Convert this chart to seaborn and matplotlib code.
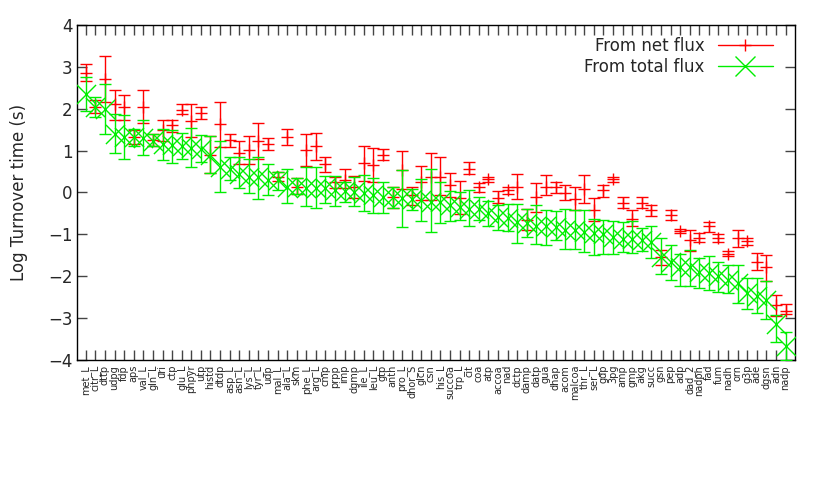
import numpy as np
import pandas as pd
import matplotlib
matplotlib.use("Agg")
import matplotlib.pyplot as plt
from matplotlib.lines import Line2D
import seaborn as sns

labels = ["met_L", "citr_L", "dttp", "udpg", "fdp", "aps", "val_L", "gln_L", "uri", "ctp",
          "glu_L", "phpyr", "utp", "histd", "dtdp", "asp_L", "asn_L", "lys_L", "tyr_L", "udp",
          "mal_L", "ala_L", "skm", "phe_L", "arg_L", "cmp", "prpp", "imp", "dgmp", "ile_L",
          "leu_L", "gtp", "anth", "pro_L", "dhor_S", "glcn", "csn", "his_L", "succoa", "trp_L",
          "cit", "coa", "atp", "accoa", "nad", "dctp", "damp", "datp", "gua", "dhap",
          "acom", "malcoa", "thr_L", "ser_L", "gdp", "3pg", "amp", "gmp", "akg", "succ",
          "gsn", "pep", "adp", "dad_2", "nadph", "fad", "fum", "nadh", "orn", "g3p",
          "ade", "dgsn", "adn", "nadp"]

# turnover time from net flux (value, lower, upper)
net = [2.85, 2.05, 2.71, 2.11, 2.03, 1.32, 2.05, 1.26, 1.48, 1.60,
       1.98, 1.71, 1.90, 0.90, 1.63, 1.25, 0.94, 1.02, 1.24, 1.16,
       0.38, 1.33, 0.14, 1.02, 1.10, 0.67, 0.26, 0.29, 0.13, 0.70,
       0.66, 0.90, -0.11, 0.54, -0.07, 0.24, 0.36, 0.38, 0.19, -0.13,
       0.56, 0.13, 0.31, -0.13, 0.05, 0.14, -0.65, -0.10, 0.13, 0.13,
       -0.02, -0.15, 0.09, -0.41, 0.05, 0.33, -0.25, -0.63, -0.25, -0.43,
       -1.54, -0.53, -0.92, -1.14, -1.08, -0.81, -1.09, -1.46, -1.09, -1.16,
       -1.66, -1.79, -2.69, -2.83]
net_lo = [2.65, 1.90, 2.17, 1.74, 1.74, 1.15, 1.67, 1.12, 1.24, 1.45,
          1.87, 1.32, 1.75, 0.47, 1.08, 1.08, 0.67, 0.67, 0.80, 1.02,
          0.28, 1.14, -0.03, 0.63, 0.78, 0.48, 0.11, 0.11, -0.13, 0.27,
          0.26, 0.78, -0.37, 0.09, -0.29, -0.17, -0.19, -0.07, -0.10, -0.52,
          0.43, 0.02, 0.25, -0.25, -0.03, -0.15, -0.90, -0.47, -0.05, -0.02,
          -0.19, -0.41, -0.25, -0.69, -0.10, 0.25, -0.37, -0.81, -0.37, -0.55,
          -1.74, -0.65, -0.97, -1.40, -1.18, -0.94, -1.18, -1.52, -1.30, -1.26,
          -1.86, -2.11, -2.94, -2.90]
net_hi = [3.06, 2.20, 3.26, 2.44, 2.33, 1.48, 2.44, 1.40, 1.73, 1.73,
          2.11, 2.11, 2.05, 1.35, 2.17, 1.40, 1.22, 1.34, 1.65, 1.30,
          0.48, 1.52, 0.34, 1.40, 1.41, 0.84, 0.38, 0.56, 0.40, 1.12,
          1.05, 1.04, 0.14, 0.98, 0.13, 0.64, 0.94, 0.84, 0.46, 0.27,
          0.72, 0.22, 0.38, 0.03, 0.13, 0.44, -0.39, 0.22, 0.42, 0.26,
          0.19, 0.13, 0.42, -0.13, 0.18, 0.38, -0.11, -0.43, -0.11, -0.29,
          -1.38, -0.43, -0.87, -0.89, -0.97, -0.71, -0.98, -1.40, -0.89, -1.08,
          -1.44, -1.50, -2.44, -2.67]

# turnover time from total flux (value, lower, upper)
total = [2.36, 2.05, 2.00, 1.40, 1.32, 1.32, 1.30, 1.24, 1.16, 1.14,
         1.12, 1.06, 1.04, 0.90, 0.62, 0.56, 0.44, 0.36, 0.36, 0.30,
         0.29, 0.14, 0.14, 0.11, 0.11, 0.11, 0.05, 0.04, 0.02, -0.02,
         -0.07, -0.10, -0.11, -0.13, -0.15, -0.17, -0.23, -0.23, -0.31, -0.35,
         -0.39, -0.39, -0.49, -0.59, -0.60, -0.70, -0.72, -0.79, -0.81, -0.82,
         -0.89, -0.90, -0.94, -0.97, -1.00, -1.06, -1.10, -1.11, -1.13, -1.18,
         -1.54, -1.67, -1.78, -1.79, -1.90, -1.92, -2.00, -2.08, -2.17, -2.41,
         -2.48, -2.57, -3.14, -3.67]
total_lo = [1.95, 1.79, 1.40, 0.94, 0.80, 1.12, 0.90, 1.10, 0.78, 0.71,
            0.80, 0.62, 0.72, 0.47, 0.02, 0.29, 0.11, -0.01, -0.15, -0.05,
            0.05, -0.25, -0.03, -0.33, -0.36, -0.25, -0.32, -0.23, -0.33, -0.44,
            -0.48, -0.48, -0.37, -0.83, -0.43, -0.69, -0.94, -0.73, -0.67, -0.65,
            -0.80, -0.65, -0.79, -0.89, -0.92, -1.20, -1.06, -1.24, -1.25, -1.14,
            -1.34, -1.36, -1.42, -1.50, -1.46, -1.48, -1.42, -1.44, -1.40, -1.56,
            -1.94, -2.08, -2.24, -2.24, -2.27, -2.32, -2.37, -2.41, -2.64, -2.79,
            -2.87, -3.03, -3.56, -4.00]
total_hi = [2.76, 2.29, 2.60, 1.87, 1.85, 1.52, 1.74, 1.40, 1.52, 1.49,
            1.41, 1.53, 1.38, 1.35, 1.24, 0.84, 0.84, 0.79, 0.84, 0.68,
            0.48, 0.56, 0.34, 0.62, 0.62, 0.40, 0.40, 0.26, 0.38, 0.42,
            0.35, 0.26, 0.14, 0.54, 0.09, 0.33, 0.55, 0.25, 0.03, 0.01,
            0.05, -0.11, -0.21, -0.29, -0.27, -0.27, -0.39, -0.31, -0.41, -0.45,
            -0.39, -0.41, -0.43, -0.63, -0.65, -0.69, -0.71, -0.69, -0.85, -0.79,
            -1.08, -1.25, -1.48, -1.38, -1.56, -1.52, -1.66, -1.74, -1.74, -2.04,
            -2.04, -2.11, -2.93, -3.33]

df = pd.DataFrame({"metabolite": labels, "pos": np.arange(len(labels)),
                   "net": net, "net_lo": net_lo, "net_hi": net_hi,
                   "total": total, "total_lo": total_lo, "total_hi": total_hi})

red = "#ff0000"
green = "#00ee00"

sns.set_style("ticks")
plt.rcParams["font.family"] = ["DejaVu Sans"]

fig = plt.figure(figsize=(8.3, 4.98), dpi=100)
ax = fig.add_axes([0.093, 0.277, 0.865, 0.673])

# error bars from net flux
ax.errorbar(df["pos"], df["net"],
            yerr=[df["net"] - df["net_lo"], df["net_hi"] - df["net"]],
            fmt="none", ecolor=red, elinewidth=1, capsize=4, capthick=1, zorder=2)
sns.scatterplot(data=df, x="pos", y="net", marker="+", s=70, color=red,
                linewidth=1, legend=False, ax=ax, zorder=3)

# error bars from total flux
ax.errorbar(df["pos"], df["total"],
            yerr=[df["total"] - df["total_lo"], df["total_hi"] - df["total"]],
            fmt="none", ecolor=green, elinewidth=1, capsize=4, capthick=1, zorder=4)
sns.scatterplot(data=df, x="pos", y="total", marker="x", s=190, color=green,
                linewidth=1, legend=False, ax=ax, zorder=5)

ax.set_xlim(-0.9, 74)
ax.set_ylim(-4, 4)
ax.set_yticks(range(-4, 5))
ax.set_xticks(df["pos"])
ax.set_xticklabels(labels, rotation=90, fontsize=7)
ax.tick_params(axis="y", labelsize=12)
ax.tick_params(direction="in", length=7, width=1, top=True, right=True, color="#444444")
ax.set_xlabel("")
ax.set_ylabel("Log Turnover time (s)", fontsize=12, labelpad=14)
for s in ax.spines.values():
    s.set_visible(True)
    s.set_color("black")
    s.set_linewidth(1)

handles = [Line2D([0], [0], color=red, marker="+", markersize=8, lw=1),
           Line2D([0], [0], color=green, marker="x", markersize=14, lw=1)]
ax.legend(handles, ["From net flux", "From total flux"], loc="upper right",
          frameon=False, markerfirst=False, fontsize=12, handlelength=3.3,
          borderaxespad=0.3, labelspacing=0.2, bbox_to_anchor=(0.985, 1.0))

fig.savefig("out.png", dpi=100)
